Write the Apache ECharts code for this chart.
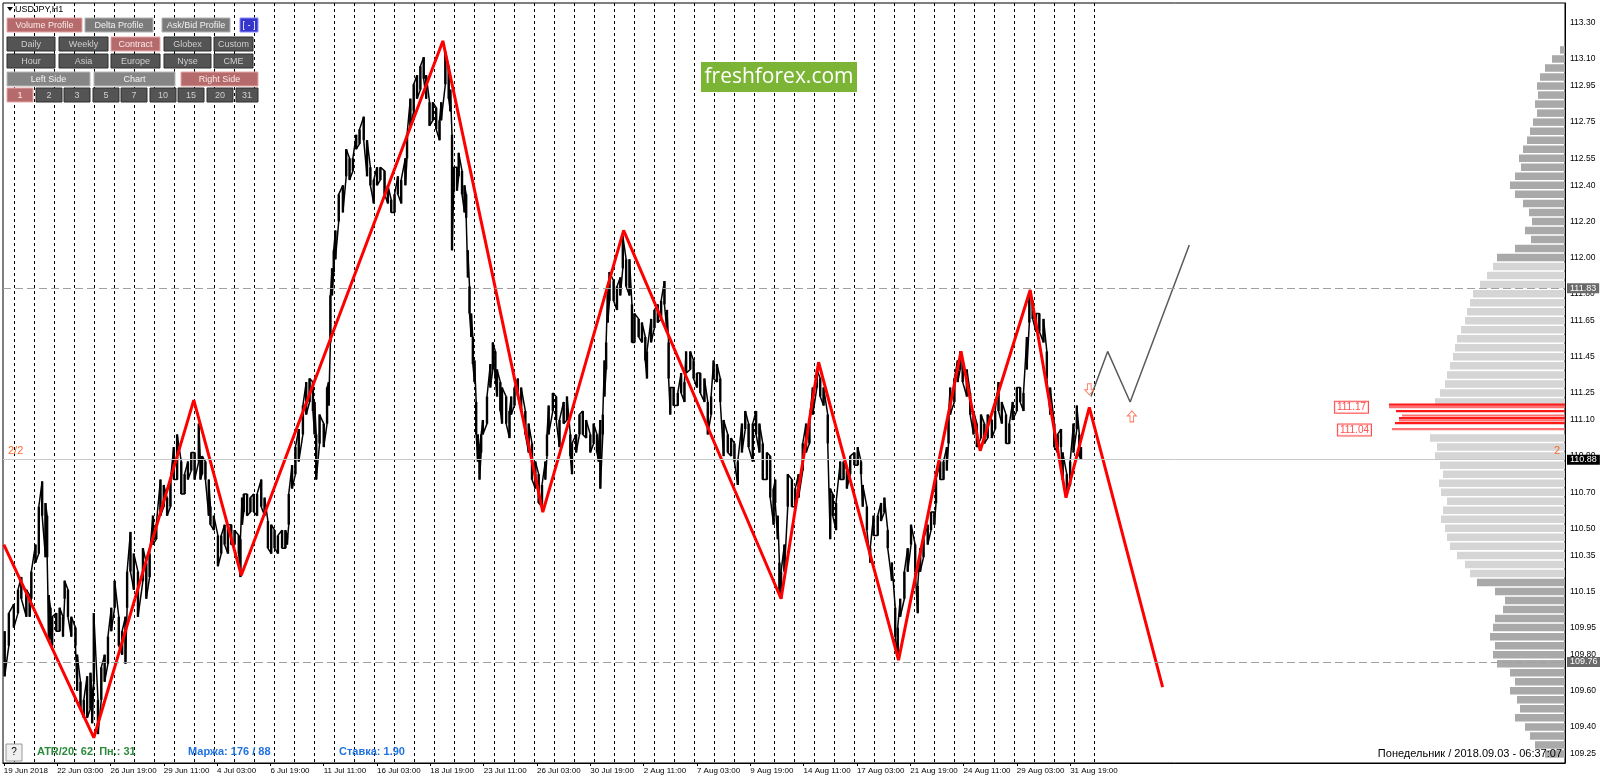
<!DOCTYPE html>
<html><head><meta charset="utf-8">
<script src="https://cdn.jsdelivr.net/npm/echarts@6/dist/echarts.min.js"></script>
<style>html,body{margin:0;padding:0;background:#fff}#c{width:1600px;height:781px}</style>
</head><body><div id="c"></div>
<script>
// ---------- DATA ----------
// x values are H1 bar numbers counted from 22 Jun 2018 03:00 (= 0)
const timeLabels = ['19 Jun 2018','22 Jun 03:00','26 Jun 19:00','29 Jun 11:00','4 Jul 03:00','6 Jul 19:00',
  '11 Jul 11:00','16 Jul 03:00','18 Jul 19:00','23 Jul 11:00','26 Jul 03:00','30 Jul 19:00','2 Aug 11:00',
  '7 Aug 03:00','9 Aug 19:00','14 Aug 11:00','17 Aug 03:00','21 Aug 19:00','24 Aug 11:00','29 Aug 03:00','31 Aug 19:00'];
const priceLabels = [113.30,113.10,112.95,112.75,112.55,112.40,112.20,112.00,111.80,111.65,111.45,111.25,111.10,
  110.90,110.70,110.50,110.35,110.15,109.95,109.80,109.60,109.40,109.25];
const lastSeparatorBar = 1245;
// [bar, high, low]
const priceBars = [
[-63,109.93,109.68],[-58,110.03,109.85],[-52,110.08,109.95],[-47,110.16,110.03],[-43,110.23,110.11],[-37,110.16,110.01],
[-33,110.13,110.01],[-31,110.26,110.11],[-26,110.41,110.31],[-22,110.62,110.36],[-18,110.76,110.57],[-14,110.64,110.34],
[-12,110.57,110.34],[-10,110.13,109.88],[-8,110.06,109.90],[-6,110.01,109.85],[-1,110.03,109.93],[3,110.06,109.93],
[7,110.01,109.90],[9,110.21,110.11],[13,110.16,110.01],[17,110.01,109.90],[22,109.95,109.85],[24,109.80,109.60],
[28,109.65,109.50],[32,109.55,109.45],[36,109.68,109.45],[40,109.70,109.50],[42,109.60,109.42],[44,110.03,109.65],
[49,109.55,109.36],[53,109.73,109.55],[57,109.80,109.65],[61,109.90,109.75],[65,110.06,109.93],[69,110.21,110.06],
[74,110.01,109.85],[78,109.93,109.80],[82,110.01,109.75],[84,110.26,110.06],[88,110.48,110.26],[92,110.36,110.16],
[97,110.26,110.01],[103,110.39,110.21],[107,110.31,110.11],[111,110.36,110.23],[115,110.57,110.41],[119,110.52,110.44],
[124,110.77,110.57],[128,110.74,110.62],[132,110.67,110.57],[136,110.77,110.62],[140,110.95,110.77],[144,111.02,110.77],
[149,110.87,110.69],[153,110.80,110.69],[157,110.87,110.77],[161,110.92,110.82],[165,110.92,110.77],[170,111.08,110.87],
[172,110.87,110.77],[174,110.90,110.80],[178,110.87,110.77],[182,110.77,110.57],[184,110.62,110.52],[188,110.57,110.49],
[193,110.46,110.29],[197,110.46,110.36],[201,110.52,110.41],[205,110.52,110.36],[209,110.52,110.41],[213,110.49,110.41],
[218,110.46,110.36],[220,110.44,110.23],[222,110.67,110.52],[224,110.69,110.59],[228,110.69,110.57],[232,110.67,110.59],
[236,110.69,110.59],[240,110.69,110.57],[245,110.77,110.62],[249,110.67,110.57],[253,110.54,110.39],[257,110.52,110.36],
[261,110.49,110.39],[265,110.46,110.36],[270,110.49,110.39],[274,110.49,110.39],[276,110.46,110.41],[278,110.69,110.52],
[282,110.85,110.72],[286,110.95,110.80],[290,111.05,110.87],[295,111.18,111.02],[299,111.31,111.13],[303,111.33,111.20],
[307,111.31,111.15],[309,111.20,111.02],[311,111.02,110.77],[315,111.13,110.97],[320,111.08,110.95],[324,111.28,111.08],
[326,111.31,111.18],[328,111.79,111.53],[330,111.94,111.79],[332,112.04,111.92],[334,112.15,111.99],[338,112.35,112.20],
[343,112.40,112.25],[347,112.60,112.45],[351,112.55,112.43],[355,112.55,112.48],[359,112.68,112.60],[363,112.71,112.63],
[368,112.78,112.65],[372,112.65,112.45],[376,112.50,112.40],[380,112.43,112.30],[384,112.50,112.40],[388,112.50,112.43],
[393,112.48,112.35],[397,112.40,112.30],[401,112.32,112.25],[405,112.35,112.25],[409,112.45,112.35],[413,112.43,112.30],
[418,112.55,112.40],[420,112.68,112.55],[424,112.88,112.73],[428,112.96,112.81],[432,113.01,112.88],[436,113.06,112.93],
[440,113.11,112.99],[443,113.01,112.88],[447,112.86,112.73],[451,112.86,112.76],[455,112.83,112.71],[459,112.76,112.65],
[461,112.86,112.76],[466,113.14,112.96],[470,113.06,112.88],[472,112.93,112.81],[474,112.68,112.04],[476,112.50,112.37],
[480,112.50,112.37],[482,112.58,112.45],[486,112.48,112.35],[489,112.40,112.25],[491,112.35,112.22],[493,112.04,111.89],
[495,111.84,111.69],[497,111.69,111.56],[499,111.56,111.41],[501,111.43,111.31],[503,111.20,111.02],[505,111.02,110.87],
[507,110.95,110.77],[509,111.02,110.92],[511,111.10,111.02],[516,111.23,111.08],[520,111.41,111.28],[523,111.53,111.38],
[526,111.48,111.33],[528,111.38,111.23],[532,111.31,111.15],[534,111.28,111.08],[539,111.23,111.08],[543,111.15,111.00],
[545,111.23,111.13],[549,111.28,111.18],[553,111.33,111.23],[557,111.28,111.15],[562,111.15,111.02],[566,111.08,110.92],
[570,110.97,110.77],[574,110.87,110.72],[578,110.80,110.64],[582,110.74,110.62],
[586,110.87,110.77],[588,111.02,110.90],[590,111.18,111.02],[595,111.25,111.15],[599,111.23,111.10],[603,111.10,110.95],
[608,111.20,111.08],[612,111.23,111.10],[616,111.02,110.90],[618,110.97,110.80],[623,111.02,110.92],[627,111.13,111.02],
[631,111.15,111.02],[635,111.10,111.00],[640,111.02,110.92],[644,111.08,110.97],[648,111.02,110.92],[650,110.97,110.87],
[652,111.10,110.72],[655,111.13,111.02],[657,111.43,111.23],[659,111.53,111.38],[661,111.84,111.64],[663,111.92,111.76],
[668,111.87,111.76],[672,111.84,111.71],[676,111.89,111.79],[679,112.12,111.94],[683,111.99,111.84],[687,111.99,111.79],
[690,111.74,111.53],[693,111.69,111.53],[698,111.66,111.56],[702,111.64,111.53],[706,111.56,111.43],[708,111.48,111.33],
[713,111.66,111.53],[717,111.71,111.61],[721,111.74,111.64],[725,111.76,111.66],[729,111.87,111.74],[732,111.71,111.59],
[734,111.53,111.33],[736,111.28,111.13],[740,111.28,111.18],[745,111.25,111.18],[749,111.36,111.25],[753,111.31,111.20],
[755,111.48,111.36],[760,111.48,111.38],[764,111.43,111.33],[768,111.36,111.28],[772,111.36,111.25],[777,111.33,111.20],
[781,111.20,111.02],[785,111.23,111.13],[788,111.43,111.33],[792,111.41,111.31],[796,111.33,111.20],[800,111.10,110.90],
[805,111.02,110.92],[809,111.00,110.90],[813,110.97,110.87],[817,110.87,110.74],[822,111.08,110.92],[826,111.15,111.05],
[830,111.08,110.95],[835,111.08,110.87],[839,111.15,111.02],[843,111.08,110.92],[847,110.97,110.77],[852,110.92,110.77],
[856,110.90,110.67],[860,110.72,110.52],[862,110.77,110.64],[865,110.57,110.44],[867,110.31,110.16],[869,110.26,110.11],
[873,110.41,110.26],[877,110.80,110.62],[882,110.77,110.62],[886,110.72,110.62],[890,110.80,110.67],[895,110.97,110.82],
[899,111.08,110.92],[903,111.10,110.97],[907,111.28,111.13],[912,111.38,111.28],[916,111.33,111.23],[920,111.28,111.18],
[925,111.13,110.97],[928,110.72,110.44],[931,110.69,110.57],[935,110.64,110.49],[940,110.87,110.77],[944,110.87,110.77],
[948,110.82,110.72],[952,110.90,110.80],[957,110.92,110.85],[961,110.95,110.85],[965,110.87,110.80],[967,110.74,110.62],
[972,110.62,110.49],[976,110.39,110.31],[980,110.57,110.46],[985,110.57,110.46],[989,110.64,110.54],[993,110.67,110.59],
[997,110.49,110.39],[1002,110.31,110.21],[1006,110.06,109.90],[1009,109.95,109.79],[1012,110.11,110.01],[1017,110.26,110.11],
[1021,110.39,110.26],[1025,110.52,110.41],[1030,110.41,110.26],[1033,110.18,110.03],[1036,110.39,110.26],[1040,110.44,110.34],
[1045,110.52,110.41],[1049,110.59,110.49],[1053,110.59,110.52],[1055,110.77,110.64],[1060,110.87,110.77],[1064,110.87,110.77],
[1068,110.95,110.82],[1070,111.13,110.97],[1072,111.28,111.13],[1077,111.33,111.20],[1081,111.43,111.31],[1084,111.48,111.38],
[1087,111.43,111.31],[1092,111.38,111.23],[1096,111.25,111.13],[1100,111.15,111.02],[1104,111.08,110.95],[1109,111.13,111.00],
[1113,111.08,110.97],[1117,111.13,111.00],[1122,111.10,111.00],[1126,111.15,111.05],[1130,111.31,111.15],[1134,111.20,111.08],
[1139,111.13,110.97],[1143,111.08,110.97],[1147,111.20,111.10],[1152,111.28,111.15],[1156,111.28,111.20],[1160,111.25,111.15],
[1164,111.56,111.38],[1167,111.81,111.64],[1171,111.76,111.66],[1175,111.69,111.59],[1179,111.69,111.59],[1184,111.66,111.53],
[1188,111.48,111.33],[1192,111.28,111.13],[1197,111.08,110.95],[1201,111.02,110.92],[1205,111.05,110.95],[1207,110.92,110.77],
[1212,110.80,110.69],[1216,110.87,110.74],[1220,111.08,110.92],[1224,111.18,111.05],[1227,111.02,110.90],[1229,110.95,110.88]
];
const zigzagBars   = [-64, 44, 164, 221, 463, 583, 680, 869, 914, 1010, 1085, 1108, 1168, 1211, 1239, 1327];
const zigzagPrices = [110.41,109.34,111.21,110.24,113.20,110.59,112.15,110.11,111.42,109.77,111.48,110.93,111.82,110.67,111.17,109.62];
const projBars   = [1241, 1261, 1288, 1359];
const projPrices = [111.23, 111.48, 111.20, 112.07];
const arrowDown = [1239, 111.27];
const arrowUp   = [1290, 111.12];
const levelLines = {high: 111.83, bid: 110.88, low: 109.76};
// volume profile (price level, volume)
const profilePrices = [113.15,113.10,113.05,113.00,112.95,112.90,112.85,112.80,112.75,112.70,112.65,112.60,112.55,112.50,
  112.45,112.40,112.35,112.30,112.25,112.20,112.15,112.10,112.05,112.00,111.95,111.90,111.85,111.80,111.75,111.70,111.65,
  111.60,111.55,111.50,111.45,111.40,111.35,111.30,111.25,111.20,111.00,110.95,110.90,110.85,110.80,110.75,
  110.70,110.65,110.60,110.55,110.50,110.45,110.40,110.35,110.30,110.25,110.20,110.15,110.10,110.05,110.00,109.95,109.90,
  109.85,109.80,109.75,109.70,109.65,109.60,109.55,109.50,109.45,109.40,109.35,109.30,109.25];
const profileVolumes = [2.5,6.5,10,12.5,14,13.5,15,14,16,17.5,19,21,23,22,25,27.5,25,21,18,16.5,20,17,25,34,36,39,42.5,46,
  47.5,49,50,52,54,55,56,57.5,59,60,62.5,65,67.5,64,65,62.5,61,63,62,59,61,62,60,59,57.5,54,50,47.5,44,35,30,31,35,36,
  37.5,35,36,34,27.5,25,27.5,24,22.5,25,20,17.5,15,10];
const pocPrices  = [111.185,111.171,111.149,111.125,111.110,111.098,111.083,111.049];
const pocVolumes = [88,88,84.5,81.5,83,83,85,86.5];
const pocLabels = [['111.17',111.171],['111.04',111.045]];

// ---------- CHART ----------
const FONT = 'Liberation Sans, Arial, sans-serif';
const cats = []; for (let t = -65; t <= 1810; t++) cats.push(String(t));
const labelAt = {};
timeLabels.forEach((s, i) => { labelAt[i === 0 ? -64 : (i - 1) * 64] = s; });
const isLabelIdx = (i) => labelAt[i - 65] !== undefined;
const isDayIdx = (i) => { const t = i - 65; return t <= lastSeparatorBar && (((t + 3) % 24) + 24) % 24 === 0; };

const lineData = [];
priceBars.forEach((b, k) => {
  const x = String(b[0]);
  if (k % 2 === 0) { lineData.push([x, b[1]]); lineData.push([x, b[2]]); }
  else { lineData.push([x, b[2]]); lineData.push([x, b[1]]); }
});
const barData = priceBars.map(b => [String(b[0]), b[1], b[2]]);
const zigData = zigzagBars.map((t, i) => [String(t), zigzagPrices[i]]);
const projData = projBars.map((t, i) => [String(t), projPrices[i]]);
const profData = profilePrices.map((p, i) => [profileVolumes[i], p]);
const pocData = pocPrices.map((p, i) => [pocVolumes[i], p]);

function profRender(colorFn, h) {
  return function (params, api) {
    const v = api.value(0), p = api.value(1);
    const a = api.coord([v, p]), b = api.coord([0, p]);
    return { type: 'rect', shape: { x: a[0], y: a[1] - h / 2, width: b[0] - a[0], height: h },
      style: { fill: colorFn(p, params.dataIndex) }, silent: true };
  };
}
function barRender(params, api) {
  const hi = api.coord([api.value(0), api.value(1)]);
  const lo = api.coord([api.value(0), api.value(2)]);
  return { type: 'rect', shape: { x: hi[0] - 1.2, y: hi[1], width: 2.4, height: Math.max(1, lo[1] - hi[1]) },
    style: { fill: '#000' }, silent: true };
}

const buttons = [];
function btn(x, y, w, h, text, kind) {
  const pal = {
    pink: ['#b56b6b', '#e6a6a6', '#fbeaea'],
    grey: ['#7b7b7b', '#b4b4b4', '#f2f2f2'],
    light:['#868686', '#b8b8b8', '#f4f4f4'],
    dark: ['#545454', '#2e2e2e', '#cfcfcf'],
    blue: ['#3535cc', '#8a8aff', '#ffffff']
  }[kind];
  buttons.push({ type: 'rect', shape: { x: x, y: y, width: w, height: h },
    style: { fill: pal[0], stroke: pal[1], lineWidth: 1 }, z: 100 });
  buttons.push({ type: 'text', x: x + w / 2, y: y + h / 2 + 0.5,
    style: { text: text, fill: pal[2], font: '9px ' + FONT, textAlign: 'center', textVerticalAlign: 'middle' }, z: 101 });
}
btn(7, 18, 75, 14, 'Volume Profile', 'pink'); btn(85, 18, 68, 14, 'Delta Profile', 'grey');
btn(162, 18, 68, 14, 'Ask/Bid Profile', 'grey'); btn(240, 18, 18, 14, '[ - ]', 'blue');
const colsX = [[7, 48], [59, 49], [111, 49], [164, 47], [214, 39]];
['Daily', 'Weekly', 'Contract', 'Globex', 'Custom'].forEach((s, i) => btn(colsX[i][0], 37, colsX[i][1], 14, s, s === 'Contract' ? 'pink' : 'dark'));
['Hour', 'Asia', 'Europe', 'Nyse', 'CME'].forEach((s, i) => btn(colsX[i][0], 54, colsX[i][1], 14, s, 'dark'));
btn(7, 72, 83, 14, 'Left Side', 'light'); btn(94, 72, 81, 14, 'Chart', 'light'); btn(181, 72, 77, 14, 'Right Side', 'pink');
const numX = [7, 36, 64, 93, 121, 150, 178, 207, 236];
['1', '2', '3', '5', '7', '10', '15', '20', '31'].forEach((s, i) => btn(numX[i], 88, i === 8 ? 22 : 26, 14, s, i === 0 ? 'pink' : 'dark'));

const graphics = buttons.concat([
  { type: 'polygon', shape: { points: [[7, 7], [13, 7], [10, 11]] }, style: { fill: '#000' }, z: 100 },
  { type: 'text', x: 15, y: 10, style: { text: 'USDJPY,H1', fill: '#000', font: '9px ' + FONT, textVerticalAlign: 'middle' }, z: 100 },
  { type: 'rect', shape: { x: 701, y: 62, width: 156, height: 30 }, style: { fill: '#7cb535' }, z: 100 },
  { type: 'text', x: 779, y: 77.5, style: { text: 'freshforex.com', fill: '#fff', font: '21px "Open Sans", sans-serif', textAlign: 'center', textVerticalAlign: 'middle' }, z: 101 },
  { type: 'rect', shape: { x: 6, y: 744, width: 16, height: 17 }, style: { fill: '#f0f0f0', stroke: '#9a9a9a' }, z: 100 },
  { type: 'text', x: 14, y: 752.5, style: { text: '?', fill: '#000', font: '10px ' + FONT, textAlign: 'center', textVerticalAlign: 'middle' }, z: 101 },
  { type: 'text', x: 37, y: 752, style: { text: 'ATR/20: 62  Пн.: 31', fill: '#2c8a3c', font: 'bold 11px ' + FONT, textVerticalAlign: 'middle' }, z: 100 },
  { type: 'text', x: 188, y: 752, style: { text: 'Маржа: 176 / 88', fill: '#1f72e0', font: 'bold 11px ' + FONT, textVerticalAlign: 'middle' }, z: 100 },
  { type: 'text', x: 339, y: 752, style: { text: 'Ставка: 1.90', fill: '#1f72e0', font: 'bold 11px ' + FONT, textVerticalAlign: 'middle' }, z: 100 },
  { type: 'text', x: 1562, y: 754, style: { text: 'Понедельник / 2018.09.03 - 06:37:07', fill: '#000', font: '11px ' + FONT, textAlign: 'right', textVerticalAlign: 'middle' }, z: 100 },
  { type: 'text', x: 8, y: 451, style: { text: '2/2', fill: '#ff6a2a', font: '11px ' + FONT, textVerticalAlign: 'middle' }, z: 100 },
  { type: 'text', x: 1554, y: 451, style: { text: '2', fill: '#ff6a2a', font: '11px ' + FONT, textVerticalAlign: 'middle' }, z: 100 }
]);

const arrowPathDown = 'path://M3,0 L7,0 L7,6 L10,6 L5,11 L0,6 L3,6 Z';
const arrowPathUp = 'path://M5,0 L10,5 L7,5 L7,11 L3,11 L3,5 L0,5 Z';

const option = {
  animation: false,
  backgroundColor: '#fff',
  grid: { left: 3, right: 35, top: 3, bottom: 18, show: true, borderColor: '#000', borderWidth: 1 },
  xAxis: [{
    type: 'category', data: cats, boundaryGap: false, position: 'bottom',
    axisLine: { show: true, lineStyle: { color: '#000', width: 1 } },
    axisTick: { show: true, interval: isLabelIdx, length: 3, lineStyle: { color: '#000' } },
    axisLabel: { interval: isLabelIdx, formatter: (v) => labelAt[+v] || '', align: 'left', fontSize: 8, fontFamily: FONT, color: '#000', margin: 4 },
    splitLine: { show: true, interval: isDayIdx, lineStyle: { color: '#000', width: 1, type: [3, 3] } }
  }, {
    type: 'value', min: 0, max: 781, inverse: true, show: false, position: 'top'
  }],
  yAxis: [{
    type: 'value', position: 'right', min: 109.2, max: 113.41, interval: 0.05,
    axisLine: { show: true, lineStyle: { color: '#000' } },
    axisTick: { show: false }, splitLine: { show: false },
    axisLabel: {
      fontSize: 8.5, fontFamily: FONT, color: '#000', margin: 5,
      formatter: (v) => priceLabels.some(p => Math.abs(p - v) < 1e-6) ? v.toFixed(2) : ''
    }
  }],
  series: [
    { type: 'custom', xAxisIndex: 1, yAxisIndex: 0, data: profData, z: 1,
      renderItem: profRender((p) => (p >= 111.98 || p <= 110.22) ? '#a9a9a9' : '#d5d5d5', 7.5) },
    { type: 'custom', xAxisIndex: 1, yAxisIndex: 0, data: pocData, z: 2,
      renderItem: profRender((p, i) => i % 2 ? '#ff7070' : '#ff1a1a', 2.2) },
    { type: 'scatter', xAxisIndex: 1, yAxisIndex: 0, symbolSize: 0, z: 5,
      data: pocLabels.map((l, i) => ({ value: [i === 0 ? 98.5 : 97, l[1]], label: { formatter: l[0] } })),
      label: { show: true, position: 'left', distance: 0, color: '#ff2020', fontSize: 10, fontFamily: FONT,
        backgroundColor: '#fff', borderColor: '#ff2020', borderWidth: 1, padding: [1, 2, 0, 2] } },
    { type: 'custom', data: barData, z: 3, renderItem: barRender, encode: { x: 0, y: [1, 2] } },
    { type: 'line', data: lineData, symbol: 'none', z: 3,
      lineStyle: { color: '#000', width: 1.5 },
      markLine: {
        silent: true, symbol: 'none', animation: false,
        data: [
          { yAxis: levelLines.high, lineStyle: { color: '#a0a0a0', type: [8, 4], width: 1 },
            label: { show: true, position: 'end', formatter: '111.83', backgroundColor: '#6a6a6a', color: '#fff', padding: [1, 3, 0, 3], fontSize: 9, fontFamily: FONT, distance: 2 } },
          { yAxis: levelLines.bid, lineStyle: { color: '#c8c8c8', type: 'solid', width: 1 },
            label: { show: true, position: 'end', formatter: '110.88', backgroundColor: '#000', color: '#fff', padding: [1, 3, 0, 3], fontSize: 9, fontFamily: FONT, distance: 2 } },
          { yAxis: levelLines.low, lineStyle: { color: '#a0a0a0', type: [8, 4], width: 1 },
            label: { show: true, position: 'end', formatter: '109.76', backgroundColor: '#6a6a6a', color: '#fff', padding: [1, 3, 0, 3], fontSize: 9, fontFamily: FONT, distance: 2 } }
        ]
      } },
    { type: 'line', data: zigData, symbol: 'none', z: 4, lineStyle: { color: '#ff0000', width: 3 } },
    { type: 'line', data: projData, symbol: 'none', z: 4, lineStyle: { color: '#5a5a5a', width: 1.5 } },
    { type: 'scatter', z: 6, symbolSize: [9, 11],
      data: [{ value: [String(arrowDown[0]), arrowDown[1]], symbol: arrowPathDown },
             { value: [String(arrowUp[0]), arrowUp[1]], symbol: arrowPathUp }],
      itemStyle: { color: '#fff', borderColor: '#ff5a3a', borderWidth: 1 } }
  ],
  graphic: graphics
};
const chart = echarts.init(document.getElementById('c'));
chart.setOption(option);
</script></body></html>
